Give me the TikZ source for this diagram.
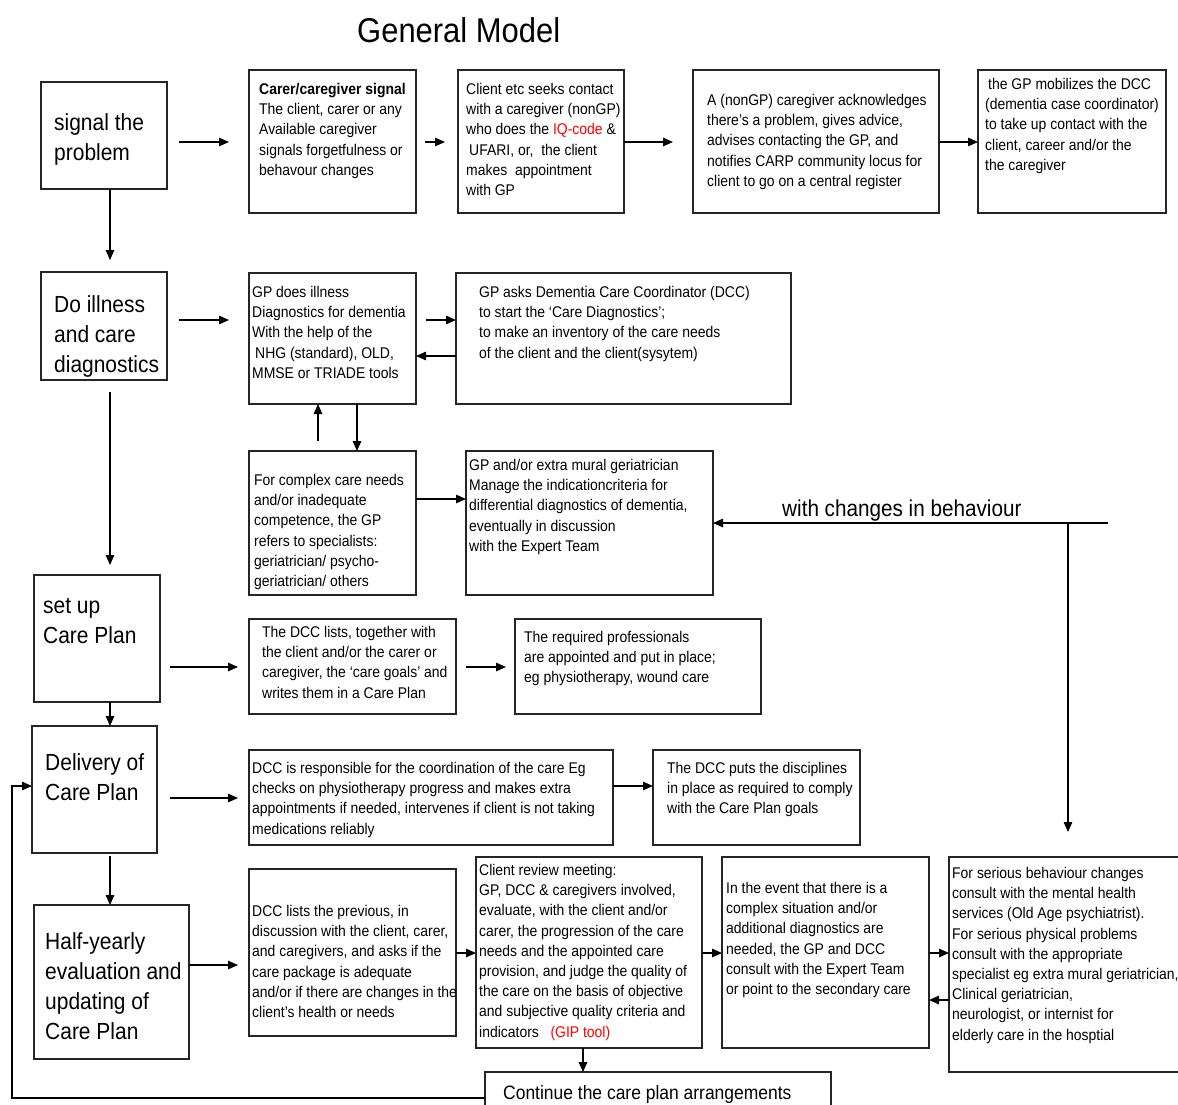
\documentclass[tikz,border=0pt]{standalone}
\usepackage{fontspec}
\setmainfont{Liberation Sans}[FakeStretch=0.9]
\usetikzlibrary{calc,arrows.meta}
\newcommand\mkbox[5]{\node[boxst, anchor=north west, minimum width={(#4-#2)*1pt}, minimum height={(#5-#3)*1pt}] (#1) at (#2,#3) {};}
\begin{document}
\begin{tikzpicture}[x=1pt,y=-1pt,
 boxst/.style={draw=black!85, line width=1.1pt, inner sep=0pt, outer sep=0pt},
 txt/.style={inner sep=0pt, align=left, font=\fontsize{15.5}{20.2}\selectfont, anchor=north west},
 big/.style={inner sep=0pt, align=left, font=\fontsize{23.3}{30}\selectfont, anchor=north west},
 arr/.style={line width=1.3pt, -{Triangle[length=10pt,width=8.5pt]}},
 ln/.style={line width=1.3pt}]
\clip (0,0) rectangle (1178,1104);
\fill[white] (0,0) rectangle (1178,1104);
% title
\node[inner sep=0pt, anchor=west, font=\fontsize{34.4}{40}\selectfont] (title) at (357,30) {General Model};
% left column
\mkbox{a1}{41}{82}{167}{189}
\node[big] (a1t) at (54,113) {signal the\\problem};
\mkbox{a2}{41}{272}{167}{380}
\node[big] (a2t) at (54,295) {Do illness\\and care\\diagnostics};
\mkbox{a3}{34}{575}{160}{702}
\node[big] (a3t) at (43,598) {set up\\Care Plan};
\mkbox{a4}{32}{726}{157}{853}
\node[big] (a4t) at (45,753) {Delivery of\\Care Plan};
\mkbox{a5}{34}{905}{189}{1059}
\node[big] (a5t) at (45,932) {Half-yearly\\evaluation and\\updating of\\Care Plan};
% row 1
\mkbox{b1}{249}{70}{416}{213}
\node[txt] (b1t) at (259,83) {\textbf{Carer/caregiver signal}\\The client, carer or any\\Available caregiver\\signals forgetfulness or\\behavour changes};
\mkbox{c1}{458}{70}{624}{213}
\node[txt] (c1t) at (466,83) {Client etc seeks contact\\with a caregiver (nonGP)\\who does the \textcolor{red}{IQ-code} \&\\\hspace{3pt}UFARI, or,\ \ the client\\makes\ \ appointment\\with GP};
\mkbox{d1}{693}{70}{939}{213}
\node[txt] (d1t) at (707,94) {A (nonGP) caregiver acknowledges\\there’s a problem, gives advice,\\advises contacting the GP, and\\notifies CARP community locus for\\client to go on a central register};
\mkbox{e1}{978}{70}{1166}{213}
\node[txt] (e1t) at (985,78) {\hspace{3pt}the GP mobilizes the DCC\\(dementia case coordinator)\\to take up contact with the\\client, career and/or the\\the caregiver};
% row 2
\mkbox{b2}{249}{273}{416}{404}
\node[txt] (b2t) at (252,286) {GP does illness\\Diagnostics for dementia\\With the help of the\\\hspace{3pt}NHG (standard), OLD,\\MMSE or TRIADE tools};
\mkbox{c2}{456}{273}{791}{404}
\node[txt] (c2t) at (479,286) {GP asks Dementia Care Coordinator (DCC)\\to start the ‘Care Diagnostics’;\\to make an inventory of the care needs\\of the client and the client(sysytem)};
\mkbox{b3}{249}{451}{416}{595}
\node[txt] (b3t) at (254,474) {For complex care needs\\and/or inadequate\\competence, the GP\\refers to specialists:\\geriatrician/ psycho-\\geriatrician/ others};
\mkbox{c3}{466}{451}{713}{595}
\node[txt] (c3t) at (469,459) {GP and/or extra mural geriatrician\\Manage the indicationcriteria for\\differential diagnostics of dementia,\\eventually in discussion\\with the Expert Team};
% row 3
\mkbox{b4}{249}{619}{456}{714}
\node[txt] (b4t) at (262,626) {The DCC lists, together with\\the client and/or the carer or\\caregiver, the ‘care goals’ and\\writes them in a Care Plan};
\mkbox{c4}{515}{619}{761}{714}
\node[txt] (c4t) at (524,631) {The required professionals\\are appointed and put in place;\\eg physiotherapy, wound care};
% row 4
\mkbox{b5}{249}{750}{613}{845}
\node[txt] (b5t) at (252,762) {DCC is responsible for the coordination of the care Eg\\checks on physiotherapy progress and makes extra\\appointments if needed, intervenes if client is not taking\\medications reliably};
\mkbox{c5}{653}{750}{860}{845}
\node[txt] (c5t) at (667,762) {The DCC puts the disciplines\\in place as required to comply\\with the Care Plan goals};
% row 5
\mkbox{b6}{249}{869}{456}{1036}
\node[txt] (b6t) at (252,905) {DCC lists the previous, in\\discussion with the client, carer,\\and caregivers, and asks if the\\care package is adequate\\and/or if there are changes in the\\client’s health or needs};
\mkbox{c6}{476}{857}{702}{1048}
\node[txt] (c6t) at (479,864) {Client review meeting:\\GP, DCC \& caregivers involved,\\evaluate, with the client and/or\\carer, the progression of the care\\needs and the appointed care\\provision, and judge the quality of\\the care on the basis of objective\\and subjective quality criteria and\\indicators\ \ \ \textcolor{red}{(GIP tool)}};
\mkbox{d6}{722}{857}{929}{1048}
\node[txt] (d6t) at (726,882) {In the event that there is a\\complex situation and/or\\additional diagnostics are\\needed, the GP and DCC\\consult with the Expert Team\\or point to the secondary care};
\mkbox{e6}{949}{857}{1190}{1072}
\node[txt] (e6t) at (952,867) {For serious behaviour changes\\consult with the mental health\\services (Old Age psychiatrist).\\For serious physical problems\\consult with the appropriate\\specialist eg extra mural geriatrician,\\Clinical geriatrician,\\neurologist, or internist for\\elderly care in the hosptial};
\mkbox{cont}{485}{1072}{831}{1125}
\node[inner sep=0pt, anchor=west, font=\fontsize{19.4}{24}\selectfont] (contt) at (503,1094) {Continue the care plan arrangements};
% behaviour label
\node[inner sep=0pt, anchor=west, font=\fontsize{23}{26}\selectfont] (beh) at (782,511) {with changes in behaviour};
\coordinate (behstart) at (1108,523);
\coordinate (behsplit) at (1068,523);
\coordinate (loopx) at (12,0);
% connectors
\draw[arr] ($(a1.east|-0,142)+(12,0)$) -- ($(b1.west|-0,142)+(-20,0)$);
\draw[arr] ($(b1.east|-0,142)+(9,0)$) -- ($(c1.west|-0,142)+(-13,0)$);
\draw[arr] (c1.east|-0,142) -- ($(d1.west|-0,142)+(-20,0)$);
\draw[arr] (d1.east|-0,142) -- (e1.west|-0,142);
\draw[arr] (110,0|-a1.south) -- ($(110,0|-a2.north)+(0,-12)$);
\draw[arr] ($(a2.east|-0,320)+(12,0)$) -- ($(b2.west|-0,320)+(-20,0)$);
\draw[arr] ($(b2.east|-0,320)+(10,0)$) -- (c2.west|-0,320);
\draw[arr] (c2.west|-0,356) -- (b2.east|-0,356);
\draw[arr] ($(318,0|-b3.north)+(0,-10)$) -- (318,0|-b2.south);
\draw[arr] (357,0|-b2.south) -- (357,0|-b3.north);
\draw[arr] (b3.east|-0,499) -- (c3.west|-0,499);
\draw[arr] (behstart) -- (c3.east|-behstart);
\draw[arr] (behsplit) -- ($(behsplit|-e6.north)+(0,-25)$);
\draw[arr] ($(110,0|-a2.south)+(0,12)$) -- ($(110,0|-a3.north)+(0,-10)$);
\draw[arr] ($(a3.east|-0,667)+(10,0)$) -- ($(b4.west|-0,667)+(-11,0)$);
\draw[arr] ($(b4.east|-0,667)+(10,0)$) -- ($(c4.west|-0,667)+(-9,0)$);
\draw[arr] (110,0|-a3.south) -- (110,0|-a4.north);
\draw[arr] ($(a4.east|-0,798)+(13,0)$) -- ($(b5.west|-0,798)+(-11,0)$);
\draw[arr] (b5.east|-0,786) -- (c5.west|-0,786);
\draw[arr] ($(110,0|-a4.south)+(0,3)$) -- (110,0|-a5.north);
\draw[arr] (a5.east|-0,965) -- ($(b6.west|-0,965)+(-11,0)$);
\draw[arr] (b6.east|-0,953) -- (c6.west|-0,953);
\draw[arr] (c6.east|-0,953) -- (d6.west|-0,953);
\draw[arr] (d6.east|-0,953) -- (e6.west|-0,953);
\draw[arr] (e6.west|-0,1000) -- (d6.east|-0,1000);
\draw[arr] (583,0|-c6.south) -- (583,0|-cont.north);
\draw[arr] (cont.west|-0,1098) -- (loopx|-0,1098) -- (loopx|-0,786) -- (a4.west|-0,786);
\end{tikzpicture}
\end{document}
